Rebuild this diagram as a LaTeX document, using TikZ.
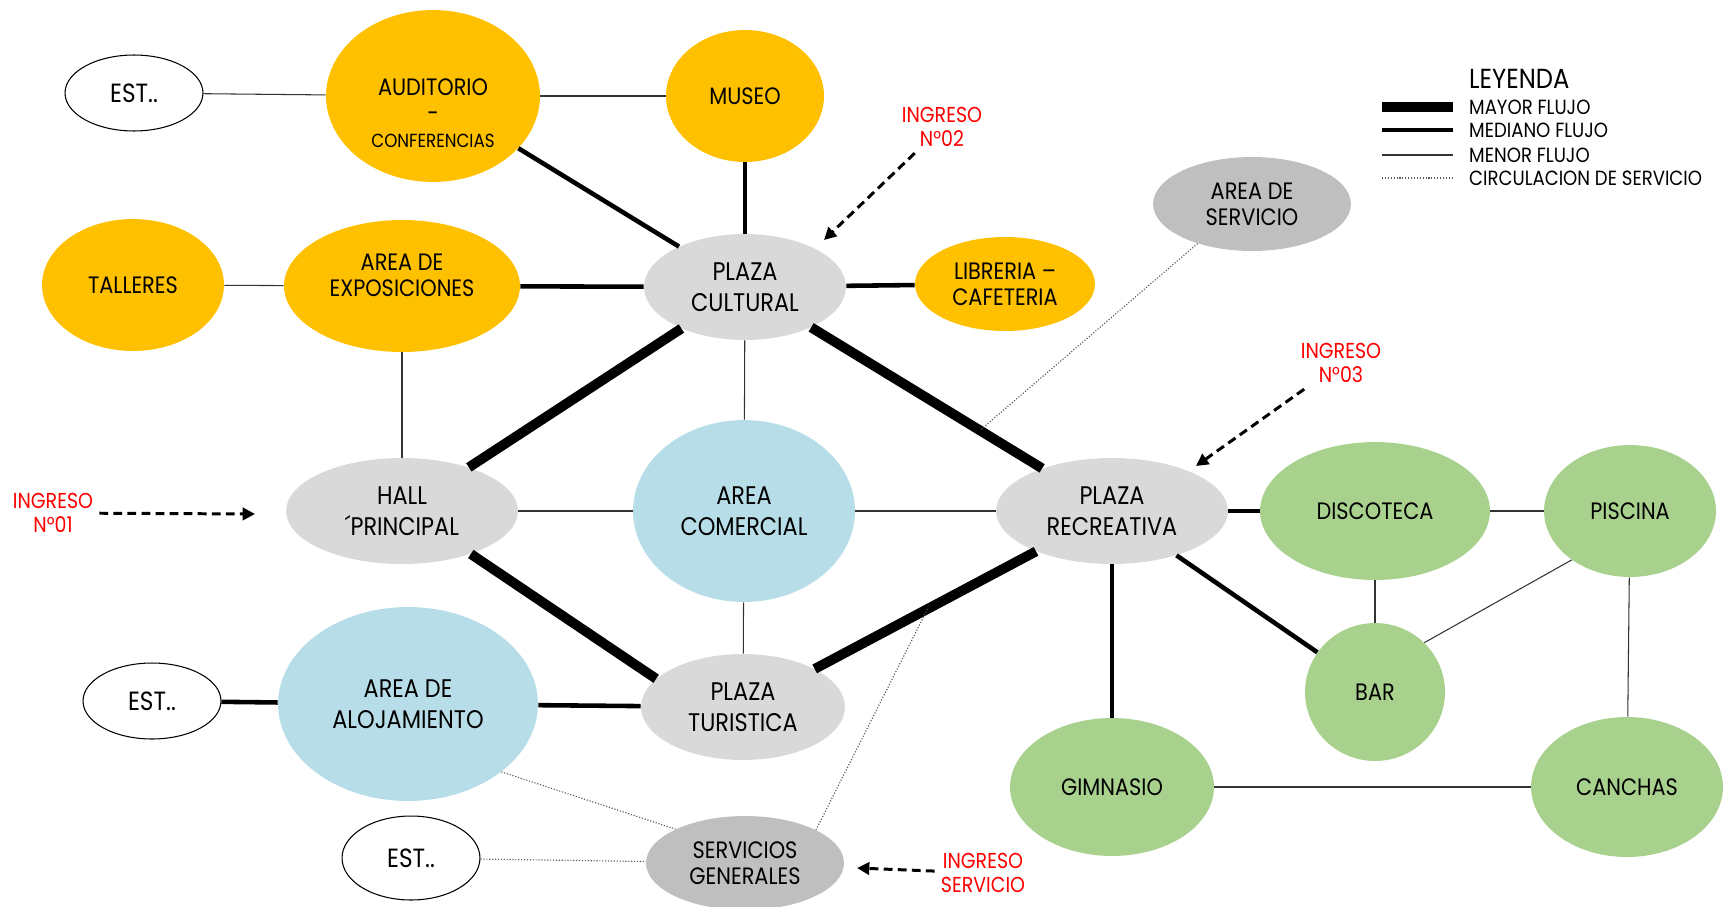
\documentclass[tikz,border=0pt]{standalone}
\usepackage{fontspec}
\setmainfont{Poppins}[FakeStretch=0.88]
\usetikzlibrary{shapes.geometric}
\usetikzlibrary{arrows.meta}
\usetikzlibrary{calc}

\definecolor{amarillo}{HTML}{FFC000}
\definecolor{grisclaro}{HTML}{D9D9D9}
\definecolor{grismedio}{HTML}{BFBFBF}
\definecolor{celeste}{HTML}{B7DEE8}
\definecolor{verde}{HTML}{A9D18E}

\begin{document}
\begin{tikzpicture}[x=0.02cm,y=-0.02cm,
  zona/.style 2 args={ellipse,inner sep=0pt,minimum width=#1*0.04cm,minimum height=#2*0.04cm,align=center,font=\fontsize{13.5}{15}\selectfont},
  grande/.style={font=\fontsize{14.5}{17.5}\selectfont},
  est/.style={draw=black,line width=0.6pt,fill=white,font=\fontsize{15}{17}\selectfont},
  mayor/.style={line width=5.6pt,black},
  mediano/.style={line width=2.6pt,black},
  menor/.style={line width=0.6pt,black!80},
  servicio/.style={line width=0.65pt,black!65,densely dotted},
  ingreso/.style={line width=1.7pt,dash pattern=on 5pt off 3pt,-{Triangle[length=7pt,width=7pt]}},
  rotulo/.style={red,align=center,font=\fontsize{12.3}{14}\selectfont},
  leyenda/.style={anchor=west,font=\fontsize{11.7}{13}\selectfont}]
 \useasboundingbox (0,0) rectangle (1723,906);
 % zona cultural
 \node[zona={69}{38},est] (est1) at (134,93) {EST..};
 \node[zona={107}{86},fill=amarillo] (aud) at (433,96) {\rule{0pt}{29pt}AUDITORIO\\-\\{\fontsize{10.8}{14}\selectfont CONFERENCIAS}};
 \node[zona={79}{66},fill=amarillo] (mus) at (745,96) {MUSEO};
 \node[zona={91}{66},fill=amarillo] (tal) at (133,285) {TALLERES};
 \node[zona={118}{66},fill=amarillo] (expo) at (402,286) {AREA DE\\EXPOSICIONES\rule[-12.5pt]{0pt}{12.5pt}};
 \node[zona={101}{53},grande,fill=grisclaro] (cult) at (745,287) {PLAZA\\CULTURAL};
 \node[zona={90}{47},fill=amarillo] (lib) at (1005,284) {LIBRERIA –\\CAFETERIA};
 \node[zona={99}{47},fill=grismedio] (aserv) at (1252,204) {AREA DE\\SERVICIO};
 % eje central
 \node[zona={116}{53},grande,fill=grisclaro] (hall) at (402,511) {HALL\\´PRINCIPAL};
 \node[zona={111}{91},grande,fill=celeste] (com) at (744,511) {AREA\\COMERCIAL};
 \node[zona={116}{53},grande,fill=grisclaro] (recr) at (1112,511) {PLAZA\\RECREATIVA};
 % zona recreativa
 \node[zona={115}{69},fill=verde] (disc) at (1375,511) {DISCOTECA};
 \node[zona={86}{66},fill=verde] (pis) at (1630,511) {PISCINA};
 \node[zona={70}{69},fill=verde] (bar) at (1375,692) {BAR};
 \node[zona={96}{70},fill=verde] (can) at (1627,787) {CANCHAS};
 \node[zona={102}{69},fill=verde] (gim) at (1112,787) {GIMNASIO};
 % zona turistica
 \node[zona={102}{53},grande,fill=grisclaro] (tur) at (743,707) {PLAZA\\TURISTICA};
 \node[zona={130}{97},grande,fill=celeste] (aloj) at (408,704) {AREA DE\\ALOJAMIENTO};
 \node[zona={69}{38},est] (est2) at (152,701) {EST..};
 \node[zona={69}{42},est] (est3) at (411,858) {EST..};
 \node[zona={99}{47},fill=grismedio] (sgen) at (745,863) {SERVICIOS\\GENERALES};

 % flujos
 \draw[menor] (est1) -- (aud);
 \draw[menor] (aud) -- (mus);
 \draw[mediano] (aud) -- (cult);
 \draw[mediano] (mus) -- (cult);
 \draw[menor] (tal) -- (expo);
 \draw[mediano] (expo) -- (cult);
 \draw[mediano] (cult) -- (lib);
 \draw[menor] (expo) -- (hall);
 \draw[menor] (cult) -- (com);
 \draw[mayor] (cult) -- (hall);
 \draw[mayor] (cult) -- (recr);
 \draw[menor] (hall) -- (com);
 \draw[menor] (com) -- (recr);
 \draw[menor] (com) -- (tur);
 \draw[mayor] (hall.-32) -- (tur.162);
 \draw[mayor] (tur) -- (recr);
 \draw[mediano] (recr) -- (disc);
 \draw[mediano] (recr) -- (bar);
 \draw[mediano] (recr) -- (gim);
 \draw[menor] (disc) -- (pis);
 \draw[menor] (disc) -- (bar);
 \draw[menor] (pis.220) -- (bar.45);
 \draw[menor] (pis) -- (can);
 \draw[menor] (gim) -- (can);
 \draw[mediano] (est2) -- (aloj);
 \draw[mediano] (aloj) -- (tur);
 % circulacion de servicio
 \coordinate (c1) at ($(cult)!0.64!(recr)$);
 \coordinate (c2) at ($(tur)!0.5!(recr)$);
 \draw[servicio] (aserv.216) -- (c1);
 \draw[servicio] (sgen.25) -- (c2);
 \draw[servicio] (aloj.-36) -- (sgen.154);
 \draw[servicio] (est3) -- (sgen);

 % ingresos
 \node[rotulo] (in1) at (53,513) {INGRESO\\N°01};
 \node[rotulo] (in2) at (942,127) {INGRESO\\N°02};
 \node[rotulo] (in3) at (1341,363) {INGRESO\\N°03};
 \node[rotulo] (inS) at (983,873) {INGRESO\\SERVICIO};
 \coordinate (f1) at (255,514);
 \coordinate (f2) at (824,240);
 \coordinate (f3) at (1196,466);
 \coordinate (fS) at (857,868);
 \draw[ingreso] (in1) -- (f1);
 \draw[ingreso] (in2) -- (f2);
 \draw[ingreso] (in3) -- (f3);
 \draw[ingreso] (inS) -- (fS);

 % leyenda
 \node[leyenda,font=\fontsize{15.7}{17}\selectfont] (ley) at (1463,79) {LEYENDA};
 \node[leyenda] (l1) at (1463,107) {MAYOR FLUJO};
 \node[leyenda] (l2) at (1463,130) {MEDIANO FLUJO};
 \node[leyenda] (l3) at (1463,155) {MENOR FLUJO};
 \node[leyenda] (l4) at (1463,178) {CIRCULACION DE SERVICIO};
 \coordinate (m1) at (1382,107); \coordinate (n1) at (1453,107);
 \coordinate (m2) at (1382,130); \coordinate (n2) at (1453,130);
 \coordinate (m3) at (1382,155); \coordinate (n3) at (1453,155);
 \coordinate (m4) at (1382,178); \coordinate (n4) at (1453,178);
 \draw[mayor] (m1) -- (n1);
 \draw[mediano] (m2) -- (n2);
 \draw[menor] (m3) -- (n3);
 \draw[servicio] (m4) -- (n4);
\end{tikzpicture}
\end{document}
